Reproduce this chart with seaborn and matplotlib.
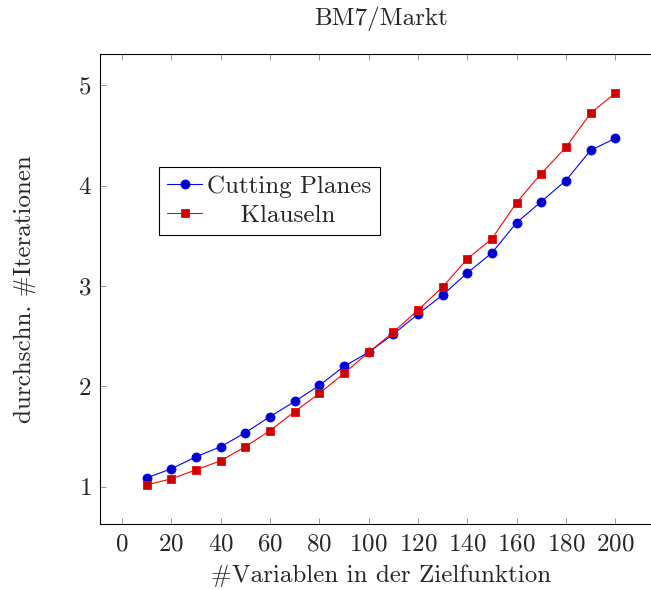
import matplotlib
matplotlib.use("Agg")
import matplotlib.pyplot as plt
import seaborn as sns
import pandas as pd

variables = [10, 20, 30, 40, 50, 60, 70, 80, 90, 100,
             110, 120, 130, 140, 150, 160, 170, 180, 190, 200]
cutting_planes = [1.09, 1.18, 1.30, 1.40, 1.54, 1.70, 1.85, 2.01, 2.20, 2.34,
                  2.52, 2.72, 2.91, 3.13, 3.33, 3.63, 3.84, 4.05, 4.35, 4.47]
klauseln = [1.02, 1.08, 1.17, 1.26, 1.40, 1.56, 1.75, 1.93, 2.13, 2.34,
            2.54, 2.76, 2.99, 3.27, 3.47, 3.83, 4.12, 4.38, 4.72, 4.92]
xticks = [0, 20, 40, 60, 80, 100, 120, 140, 160, 180, 200]
yticks = [1, 2, 3, 4, 5]

sns.set_theme(style="ticks")
plt.rcParams['font.family'] = ['cmr10', 'DejaVu Serif']
plt.rcParams['axes.formatter.use_mathtext'] = True
plt.rcParams['axes.unicode_minus'] = False

FS = 18

fig = plt.figure(figsize=(6.51, 5.90), dpi=100)
ax = fig.add_axes([100/651, 1-524/590, (662-100)/651, (524-54)/590])

df = pd.DataFrame({"x": variables, "cp": cutting_planes, "kl": klauseln})
sns.lineplot(data=df, x="x", y="cp", ax=ax, color=(0, 0, 1), lw=0.8,
             marker="o", markersize=6.5, markerfacecolor=(0, 0, 0.8),
             markeredgecolor=(0, 0, 1), markeredgewidth=0.6,
             label="Cutting Planes")
sns.lineplot(data=df, x="x", y="kl", ax=ax, color=(1, 0, 0), lw=0.8,
             marker="s", markersize=6.2, markerfacecolor=(0.8, 0, 0),
             markeredgecolor=(1, 0, 0), markeredgewidth=0.6,
             label="    Klauseln")

ax.set_xlim(-9, 219)
ax.set_ylim(0.63, 5.31)
ax.set_xticks(xticks)
ax.set_yticks(yticks)
ax.tick_params(direction="in", length=4, width=0.6, color="#888888",
               labelsize=FS, top=True, right=True, pad=7)
ax.tick_params(axis="y", pad=6)
for s in ax.spines.values():
    s.set_linewidth(0.8)
    s.set_color("black")

ax.set_xlabel("#Variablen in der Zielfunktion", fontsize=FS, labelpad=6)
ax.set_ylabel("durchschn. #Iterationen", fontsize=FS, labelpad=30)
ax.set_title("BM7/Markt", fontsize=FS, pad=21)

leg = ax.legend(loc="upper left", bbox_to_anchor=((159-100)/562, 1-(167-54)/470),
                fontsize=FS, frameon=True, fancybox=False, edgecolor="black",
                framealpha=1, handlelength=1.4, handletextpad=0.2,
                borderpad=0.33, labelspacing=0.26, borderaxespad=0)
leg.get_frame().set_linewidth(0.8)

fig.savefig("out.png", dpi=100)
